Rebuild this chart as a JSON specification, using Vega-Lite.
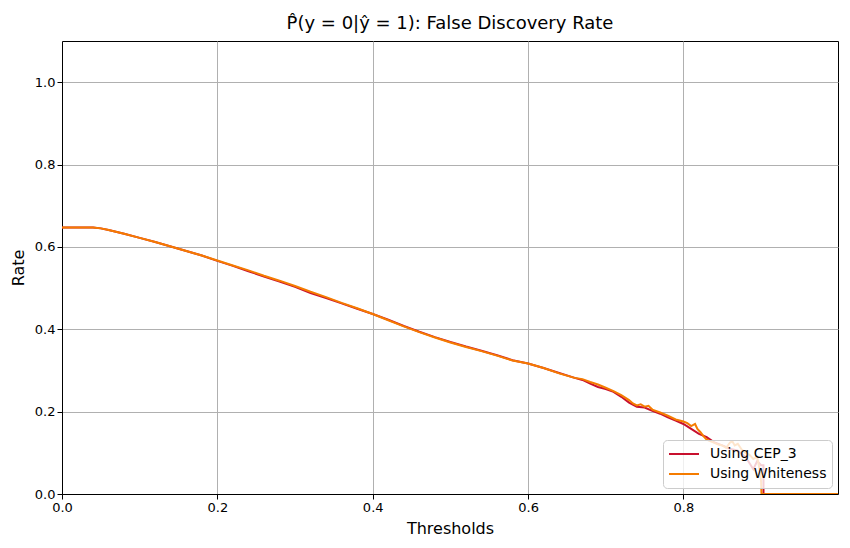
{
  "$schema": "https://vega.github.io/schema/vega-lite/v6.json",
  "autosize": "none",
  "width": 776,
  "height": 453,
  "padding": {"left": 62, "top": 41, "right": 12, "bottom": 54},
  "background": "white",
  "config": {
    "font": "DejaVu Sans",
    "view": {"stroke": "black", "strokeWidth": 1},
    "axis": {
      "labelFont": "DejaVu Sans", "labelFontSize": 13, "labelColor": "black",
      "titleFont": "DejaVu Sans", "titleFontSize": 16, "titleFontWeight": "normal", "titleColor": "black",
      "domainColor": "black", "tickColor": "black", "tickSize": 5,
      "gridColor": "#b0b0b0", "gridWidth": 1, "gridOpacity": 1
    }
  },
  "title": {
    "text": "P̂(y = 0|ŷ = 1): False Discovery Rate",
    "font": "DejaVu Sans", "fontSize": 18, "fontWeight": "normal", "color": "black", "offset": 8
  },
  "data": {
    "values": [
      {"series": "Using CEP_3", "x": 0.000, "y": 0.647}, {"series": "Using CEP_3", "x": 0.040, "y": 0.647},
      {"series": "Using CEP_3", "x": 0.050, "y": 0.645}, {"series": "Using CEP_3", "x": 0.060, "y": 0.641},
      {"series": "Using CEP_3", "x": 0.080, "y": 0.632}, {"series": "Using CEP_3", "x": 0.100, "y": 0.622},
      {"series": "Using CEP_3", "x": 0.120, "y": 0.612}, {"series": "Using CEP_3", "x": 0.140, "y": 0.601},
      {"series": "Using CEP_3", "x": 0.160, "y": 0.590}, {"series": "Using CEP_3", "x": 0.180, "y": 0.579},
      {"series": "Using CEP_3", "x": 0.200, "y": 0.566}, {"series": "Using CEP_3", "x": 0.220, "y": 0.554},
      {"series": "Using CEP_3", "x": 0.240, "y": 0.541}, {"series": "Using CEP_3", "x": 0.260, "y": 0.528},
      {"series": "Using CEP_3", "x": 0.280, "y": 0.516}, {"series": "Using CEP_3", "x": 0.300, "y": 0.503},
      {"series": "Using CEP_3", "x": 0.320, "y": 0.488}, {"series": "Using CEP_3", "x": 0.340, "y": 0.476},
      {"series": "Using CEP_3", "x": 0.360, "y": 0.463}, {"series": "Using CEP_3", "x": 0.380, "y": 0.450},
      {"series": "Using CEP_3", "x": 0.400, "y": 0.437}, {"series": "Using CEP_3", "x": 0.420, "y": 0.423},
      {"series": "Using CEP_3", "x": 0.440, "y": 0.408}, {"series": "Using CEP_3", "x": 0.460, "y": 0.394},
      {"series": "Using CEP_3", "x": 0.480, "y": 0.381}, {"series": "Using CEP_3", "x": 0.500, "y": 0.369},
      {"series": "Using CEP_3", "x": 0.520, "y": 0.358}, {"series": "Using CEP_3", "x": 0.540, "y": 0.348},
      {"series": "Using CEP_3", "x": 0.560, "y": 0.337}, {"series": "Using CEP_3", "x": 0.580, "y": 0.325},
      {"series": "Using CEP_3", "x": 0.600, "y": 0.317}, {"series": "Using CEP_3", "x": 0.620, "y": 0.306},
      {"series": "Using CEP_3", "x": 0.640, "y": 0.294}, {"series": "Using CEP_3", "x": 0.660, "y": 0.282},
      {"series": "Using CEP_3", "x": 0.670, "y": 0.277}, {"series": "Using CEP_3", "x": 0.680, "y": 0.268},
      {"series": "Using CEP_3", "x": 0.690, "y": 0.260}, {"series": "Using CEP_3", "x": 0.700, "y": 0.255},
      {"series": "Using CEP_3", "x": 0.710, "y": 0.248}, {"series": "Using CEP_3", "x": 0.720, "y": 0.236},
      {"series": "Using CEP_3", "x": 0.730, "y": 0.222}, {"series": "Using CEP_3", "x": 0.740, "y": 0.212},
      {"series": "Using CEP_3", "x": 0.750, "y": 0.210}, {"series": "Using CEP_3", "x": 0.760, "y": 0.202},
      {"series": "Using CEP_3", "x": 0.770, "y": 0.195}, {"series": "Using CEP_3", "x": 0.780, "y": 0.186},
      {"series": "Using CEP_3", "x": 0.790, "y": 0.178}, {"series": "Using CEP_3", "x": 0.800, "y": 0.170},
      {"series": "Using CEP_3", "x": 0.810, "y": 0.158}, {"series": "Using CEP_3", "x": 0.820, "y": 0.146},
      {"series": "Using CEP_3", "x": 0.830, "y": 0.138}, {"series": "Using CEP_3", "x": 0.840, "y": 0.125},
      {"series": "Using CEP_3", "x": 0.850, "y": 0.118}, {"series": "Using CEP_3", "x": 0.860, "y": 0.110},
      {"series": "Using CEP_3", "x": 0.870, "y": 0.105}, {"series": "Using CEP_3", "x": 0.880, "y": 0.090},
      {"series": "Using CEP_3", "x": 0.890, "y": 0.060}, {"series": "Using CEP_3", "x": 0.895, "y": 0.080},
      {"series": "Using CEP_3", "x": 0.900, "y": 0.070}, {"series": "Using CEP_3", "x": 0.903, "y": 0.070},
      {"series": "Using CEP_3", "x": 0.9031, "y": 0.0}, {"series": "Using CEP_3", "x": 0.999, "y": 0.0},

      {"series": "Using Whiteness", "x": 0.000, "y": 0.647}, {"series": "Using Whiteness", "x": 0.040, "y": 0.647},
      {"series": "Using Whiteness", "x": 0.050, "y": 0.645}, {"series": "Using Whiteness", "x": 0.060, "y": 0.641},
      {"series": "Using Whiteness", "x": 0.080, "y": 0.632}, {"series": "Using Whiteness", "x": 0.100, "y": 0.622},
      {"series": "Using Whiteness", "x": 0.120, "y": 0.612}, {"series": "Using Whiteness", "x": 0.140, "y": 0.601},
      {"series": "Using Whiteness", "x": 0.160, "y": 0.590}, {"series": "Using Whiteness", "x": 0.180, "y": 0.579},
      {"series": "Using Whiteness", "x": 0.200, "y": 0.567}, {"series": "Using Whiteness", "x": 0.220, "y": 0.555},
      {"series": "Using Whiteness", "x": 0.240, "y": 0.543}, {"series": "Using Whiteness", "x": 0.260, "y": 0.530},
      {"series": "Using Whiteness", "x": 0.280, "y": 0.518}, {"series": "Using Whiteness", "x": 0.300, "y": 0.505},
      {"series": "Using Whiteness", "x": 0.320, "y": 0.491}, {"series": "Using Whiteness", "x": 0.340, "y": 0.478},
      {"series": "Using Whiteness", "x": 0.360, "y": 0.464}, {"series": "Using Whiteness", "x": 0.380, "y": 0.451},
      {"series": "Using Whiteness", "x": 0.400, "y": 0.437}, {"series": "Using Whiteness", "x": 0.420, "y": 0.422},
      {"series": "Using Whiteness", "x": 0.440, "y": 0.407}, {"series": "Using Whiteness", "x": 0.460, "y": 0.393},
      {"series": "Using Whiteness", "x": 0.480, "y": 0.380}, {"series": "Using Whiteness", "x": 0.500, "y": 0.368},
      {"series": "Using Whiteness", "x": 0.520, "y": 0.357}, {"series": "Using Whiteness", "x": 0.540, "y": 0.347},
      {"series": "Using Whiteness", "x": 0.560, "y": 0.336}, {"series": "Using Whiteness", "x": 0.580, "y": 0.324},
      {"series": "Using Whiteness", "x": 0.600, "y": 0.317}, {"series": "Using Whiteness", "x": 0.620, "y": 0.306},
      {"series": "Using Whiteness", "x": 0.640, "y": 0.293}, {"series": "Using Whiteness", "x": 0.660, "y": 0.282},
      {"series": "Using Whiteness", "x": 0.670, "y": 0.279}, {"series": "Using Whiteness", "x": 0.680, "y": 0.272},
      {"series": "Using Whiteness", "x": 0.690, "y": 0.266}, {"series": "Using Whiteness", "x": 0.700, "y": 0.258},
      {"series": "Using Whiteness", "x": 0.710, "y": 0.250}, {"series": "Using Whiteness", "x": 0.720, "y": 0.240},
      {"series": "Using Whiteness", "x": 0.730, "y": 0.228}, {"series": "Using Whiteness", "x": 0.735, "y": 0.220},
      {"series": "Using Whiteness", "x": 0.740, "y": 0.215}, {"series": "Using Whiteness", "x": 0.745, "y": 0.218},
      {"series": "Using Whiteness", "x": 0.750, "y": 0.212}, {"series": "Using Whiteness", "x": 0.755, "y": 0.214},
      {"series": "Using Whiteness", "x": 0.760, "y": 0.205}, {"series": "Using Whiteness", "x": 0.770, "y": 0.198},
      {"series": "Using Whiteness", "x": 0.780, "y": 0.190}, {"series": "Using Whiteness", "x": 0.790, "y": 0.181},
      {"series": "Using Whiteness", "x": 0.800, "y": 0.176}, {"series": "Using Whiteness", "x": 0.805, "y": 0.172},
      {"series": "Using Whiteness", "x": 0.810, "y": 0.165}, {"series": "Using Whiteness", "x": 0.815, "y": 0.170},
      {"series": "Using Whiteness", "x": 0.818, "y": 0.158}, {"series": "Using Whiteness", "x": 0.822, "y": 0.150},
      {"series": "Using Whiteness", "x": 0.826, "y": 0.140}, {"series": "Using Whiteness", "x": 0.830, "y": 0.132},
      {"series": "Using Whiteness", "x": 0.835, "y": 0.128}, {"series": "Using Whiteness", "x": 0.840, "y": 0.124},
      {"series": "Using Whiteness", "x": 0.845, "y": 0.120}, {"series": "Using Whiteness", "x": 0.850, "y": 0.118},
      {"series": "Using Whiteness", "x": 0.855, "y": 0.112}, {"series": "Using Whiteness", "x": 0.860, "y": 0.125},
      {"series": "Using Whiteness", "x": 0.863, "y": 0.128}, {"series": "Using Whiteness", "x": 0.866, "y": 0.118},
      {"series": "Using Whiteness", "x": 0.870, "y": 0.122}, {"series": "Using Whiteness", "x": 0.875, "y": 0.108},
      {"series": "Using Whiteness", "x": 0.880, "y": 0.100}, {"series": "Using Whiteness", "x": 0.885, "y": 0.095},
      {"series": "Using Whiteness", "x": 0.890, "y": 0.085}, {"series": "Using Whiteness", "x": 0.895, "y": 0.090},
      {"series": "Using Whiteness", "x": 0.898, "y": 0.060}, {"series": "Using Whiteness", "x": 0.900, "y": 0.030},
      {"series": "Using Whiteness", "x": 0.9005, "y": 0.0}, {"series": "Using Whiteness", "x": 0.999, "y": 0.0}
    ]
  },
  "mark": {"type": "line", "strokeWidth": 2, "interpolate": "linear", "clip": true},
  "encoding": {
    "x": {"field": "x", "type": "quantitative",
      "scale": {"domain": [0, 0.999], "nice": false, "zero": false},
      "axis": {"title": "Thresholds", "values": [0, 0.2, 0.4, 0.6, 0.8], "format": ".1f", "labelFlush": false, "titlePadding": 6}
    },
    "y": {"field": "y", "type": "quantitative",
      "scale": {"domain": [0, 1.1], "nice": false},
      "axis": {"title": "Rate", "values": [0, 0.2, 0.4, 0.6, 0.8, 1.0], "format": ".1f", "labelFlush": false, "titlePadding": 8}
    },
    "color": {"field": "series", "type": "nominal",
      "scale": {"domain": ["Using CEP_3", "Using Whiteness"], "range": ["#c8102e", "#f57c00"]},
      "legend": {
        "title": null, "orient": "bottom-right", "offset": 6,
        "symbolType": "stroke", "symbolSize": 900, "symbolStrokeWidth": 2,
        "labelFont": "DejaVu Sans", "labelFontSize": 14, "labelColor": "black",
        "fillColor": "rgba(255,255,255,0.8)", "strokeColor": "#cccccc", "cornerRadius": 4,
        "padding": 5, "rowPadding": 2, "labelOffset": 10, "clipHeight": 18
      }
    }
  }
}
